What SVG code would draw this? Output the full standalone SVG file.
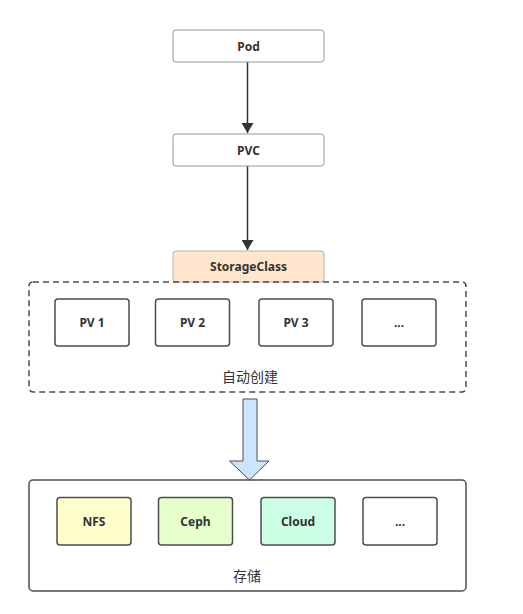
<svg xmlns="http://www.w3.org/2000/svg" width="523" height="614" viewBox="0 0 523 614">
<defs>
<style>
.box{stroke:#4d4d4d;stroke-width:1.5;fill:#ffffff}
.lbl{font-family:"Noto Sans","Noto Sans CJK SC",sans-serif;font-size:12px;font-weight:bold;fill:#333333;text-anchor:middle;dominant-baseline:central}
.cjk{font-family:"Noto Sans CJK SC",sans-serif;font-size:14px;fill:#333333;text-anchor:middle;dominant-baseline:central}
.thin{stroke:#999999;stroke-width:1;fill:#ffffff}
</style>
<marker id="ah" viewBox="0 0 10 12" refX="10" refY="6" markerWidth="10" markerHeight="12" markerUnits="userSpaceOnUse" orient="auto">
<path d="M0,0 L10,6 L0,12 Z" fill="#333333"/>
</marker>
</defs>
<rect width="523" height="614" fill="#ffffff"/>
<g id="connectors">
<line x1="247.5" y1="62" x2="247.5" y2="133" stroke="#333333" stroke-width="1.5" marker-end="url(#ah)"/>
<line x1="247.5" y1="166" x2="247.5" y2="250" stroke="#333333" stroke-width="1.5" marker-end="url(#ah)"/>
<path d="M243,399 L257,399 L257,461 L269,461 L249.5,480 L229.5,461 L243,461 Z" fill="#cce5ff" stroke="#4d4d4d" stroke-width="1"/>
</g>
<g id="pod"><rect class="thin" x="173" y="30" width="151" height="32" rx="3"/><text class="lbl" x="248.5" y="46">Pod</text></g>
<g id="pvc"><rect class="thin" x="173" y="134" width="151" height="32" rx="3"/><text class="lbl" x="248.5" y="150">PVC</text></g>
<g id="storageclass"><rect x="173" y="251" width="151" height="31" rx="3" fill="#ffe6cc" stroke="#b3b3b3" stroke-width="1"/><text class="lbl" x="248.5" y="266">StorageClass</text></g>
<g id="auto-group"><rect x="29" y="282" width="437" height="110" rx="4" fill="none" stroke="#4d4d4d" stroke-width="1.5" stroke-dasharray="6,4"/><text class="cjk" x="250" y="376">自动创建</text></g>
<g id="pv1"><rect class="box" x="55" y="299" width="74" height="47" rx="3"/><text class="lbl" x="92" y="322.5">PV 1</text></g>
<g id="pv2"><rect class="box" x="155.5" y="299" width="74" height="47" rx="3"/><text class="lbl" x="192.5" y="322.5">PV 2</text></g>
<g id="pv3"><rect class="box" x="259" y="299" width="74" height="47" rx="3"/><text class="lbl" x="296" y="322.5">PV 3</text></g>
<g id="pv-more"><rect class="box" x="362" y="299" width="74" height="47" rx="3"/><text class="lbl" x="399" y="322.5">...</text></g>
<g id="storage-group"><rect x="29" y="480" width="437" height="111" rx="4" fill="none" stroke="#4d4d4d" stroke-width="1.5"/><text class="cjk" x="247" y="575">存储</text></g>
<g id="nfs"><rect class="box" x="57" y="497.5" width="74" height="47.5" rx="3" style="fill:#ffffcc"/><text class="lbl" x="94" y="521">NFS</text></g>
<g id="ceph"><rect class="box" x="158.5" y="497.5" width="74" height="47.5" rx="3" style="fill:#e6ffcc"/><text class="lbl" x="195.5" y="521">Ceph</text></g>
<g id="cloud"><rect class="box" x="261" y="497.5" width="74" height="47.5" rx="3" style="fill:#ccffe6"/><text class="lbl" x="298" y="521">Cloud</text></g>
<g id="storage-more"><rect class="box" x="363" y="497.5" width="74" height="47.5" rx="3"/><text class="lbl" x="400" y="521">...</text></g>
</svg>
